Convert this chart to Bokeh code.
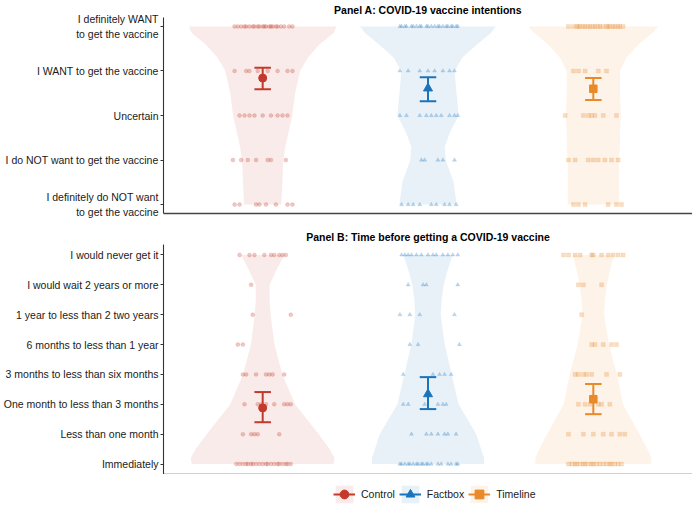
import numpy as np
from bokeh.plotting import figure
from bokeh.models import Range1d, FixedTicker, Legend, LegendItem
from bokeh.layouts import column
from bokeh.embed import file_html
from bokeh.resources import INLINE

# ---------------- data ----------------
groups = ["Control", "Factbox", "Timeline"]
group_pos = [1, 2, 3]
colors = ["#C33A2C", "#1B74BB", "#E8892A"]
markers = ["circle", "triangle", "square"]

a_title = "Panel A: COVID-19 vaccine intentions"
b_title = "Panel B: Time before getting a COVID-19 vaccine"

a_levels = [1, 2, 3, 4, 5]
a_labels = ["I definitely do NOT want\nto get the vaccine",
            "I do NOT want to get the vaccine",
            "Uncertain",
            "I WANT to get the vaccine",
            "I definitely WANT\nto get the vaccine"]
b_levels = [1, 2, 3, 4, 5, 6, 7, 8]
b_labels = ["Immediately", "Less than one month", "One month to less than 3 months",
            "3 months to less than six months", "6 months to less than 1 year",
            "1 year to less than 2 two years", "I would wait 2 years or more",
            "I would never get it"]

# means and 95% CI (Control, Factbox, Timeline)
a_mean = [3.84, 3.61, 3.60]
a_lo = [3.59, 3.32, 3.35]
a_hi = [4.07, 3.86, 3.84]
b_mean = [2.88, 3.34, 3.17]
b_lo = [2.40, 2.84, 2.67]
b_hi = [3.41, 3.91, 3.68]

# violin half-widths (x units) at response levels
a_grid = [1.0, 1.5, 2.0, 2.3, 2.6, 3.0, 3.5, 4.0, 4.3, 4.6, 4.85, 5.0]
a_half_control = [0.113, 0.119, 0.125, 0.137, 0.155, 0.179, 0.196, 0.226, 0.274, 0.345, 0.429, 0.446]
a_half_factbox = [0.173, 0.155, 0.107, 0.101, 0.131, 0.185, 0.173, 0.161, 0.208, 0.298, 0.381, 0.411]
a_half_timeline = [0.155, 0.155, 0.155, 0.161, 0.161, 0.167, 0.161, 0.161, 0.202, 0.274, 0.357, 0.393]

b_grid = [1.0, 1.2, 1.5, 2.0, 3.0, 4.0, 5.0, 6.0, 6.5, 7.0, 7.5, 8.0]
b_half_control = [0.429, 0.435, 0.405, 0.339, 0.196, 0.119, 0.071, 0.048, 0.042, 0.042, 0.083, 0.131]
b_half_factbox = [0.339, 0.339, 0.321, 0.292, 0.185, 0.143, 0.101, 0.077, 0.083, 0.095, 0.119, 0.149]
b_half_timeline = [0.351, 0.351, 0.327, 0.280, 0.179, 0.143, 0.095, 0.065, 0.071, 0.083, 0.101, 0.125]

# horizontal jitter offsets of individual responses, per level (lowest level first)
a_jit_control = [
    [-0.17, -0.14, -0.04, -0.02, 0.02, 0.08, 0.15, 0.18],
    [-0.18, -0.13, -0.09, -0.04, 0.03, 0.05, 0.14],
    [-0.14, -0.11, -0.08, -0.05, 0.0, 0.05, 0.09, 0.12, 0.15],
    [-0.17, -0.10, -0.08, -0.03, 0.03, 0.09, 0.15, 0.18],
    [-0.17, -0.15, -0.13, -0.11, -0.1, -0.08, -0.06, -0.05, -0.03, -0.02, 0.0, 0.01,
     0.02, 0.04, 0.05, 0.06, 0.08, 0.09, 0.11, 0.13, 0.16, 0.18],
]
a_jit_factbox = [
    [-0.16, -0.12, -0.09, -0.05, 0.02, 0.05, 0.1, 0.13, 0.17],
    [-0.04, -0.02, 0.06, 0.09, 0.16],
    [-0.17, -0.13, -0.05, -0.01, 0.02, 0.05, 0.08, 0.13, 0.16, 0.18],
    [-0.17, -0.12, -0.05, 0.0, 0.04, 0.09, 0.13, 0.16],
    [-0.17, -0.16, -0.14, -0.13, -0.1, -0.09, -0.07, -0.05, -0.04, -0.01, 0.0, 0.02,
     0.04, 0.06, 0.07, 0.09, 0.11, 0.12, 0.14, 0.15, 0.17, 0.18],
]
a_jit_timeline = [
    [-0.12, -0.09, -0.05, 0.09, 0.14, 0.17],
    [-0.15, -0.11, -0.03, 0.0, 0.03, 0.07, 0.11, 0.15],
    [-0.17, -0.06, -0.03, -0.01, 0.01, 0.06, 0.14],
    [-0.12, -0.09, -0.05, 0.03, 0.08],
    [-0.15, -0.12, -0.1, -0.09, -0.08, -0.06, -0.05, -0.03, -0.02, 0.0, 0.01, 0.03,
     0.04, 0.06, 0.08, 0.09, 0.1, 0.12, 0.13, 0.15, 0.16, 0.18],
]
b_jit_control = [
    [-0.16, -0.14, -0.12, -0.1, -0.09, -0.07, -0.06, -0.04, -0.02, 0.0, 0.02, 0.03,
     0.05, 0.07, 0.09, 0.1, 0.12, 0.14, 0.15, 0.17],
    [-0.12, -0.07, -0.05, -0.03, 0.1],
    [-0.11, -0.03, -0.01, 0.02, 0.07, 0.13, 0.15, 0.17],
    [-0.12, -0.1, -0.04, 0.02, 0.04, 0.06, 0.13],
    [-0.15, -0.12],
    [-0.06, 0.17],
    [-0.07],
    [-0.14, -0.08, -0.05, 0.01, 0.05, 0.07, 0.1, 0.12, 0.14],
]
b_jit_factbox = [
    [-0.17, -0.16, -0.14, -0.12, -0.11, -0.09, -0.07, -0.06, -0.04, -0.03, -0.01, 0.0,
     0.02, 0.06, 0.08, 0.12, 0.14, 0.17, 0.18],
    [-0.1, -0.01, 0.02, 0.06, 0.1, 0.12, 0.17],
    [-0.15, -0.12, -0.02, 0.06, 0.09, 0.11],
    [-0.15, 0.03, 0.07, 0.1, 0.14],
    [-0.11, -0.06, 0.19],
    [-0.17, -0.11, -0.05, 0.16],
    [-0.12, -0.03, -0.01, 0.18],
    [-0.16, -0.14, -0.12, -0.1, -0.07, -0.04, 0.0, 0.03, 0.05, 0.09, 0.12, 0.15, 0.18],
]
b_jit_timeline = [
    [-0.15, -0.13, -0.11, -0.1, -0.08, -0.06, -0.05, -0.03, -0.01, 0.0, 0.02, 0.04,
     0.06, 0.08, 0.1, 0.11, 0.13, 0.15, 0.17],
    [-0.15, -0.06, 0.0, 0.06, 0.11, 0.16, 0.19],
    [-0.09, -0.05, -0.02, 0.03, 0.05, 0.1],
    [-0.11, -0.09, -0.06, -0.04, -0.01, 0.08, 0.16],
    [-0.01, 0.01, 0.06, 0.11, 0.14],
    [-0.07],
    [-0.09, -0.06, 0.05],
    [-0.18, -0.15, -0.11, -0.08, -0.01, 0.0, 0.05, 0.09, 0.12, 0.15, 0.18],
]

# ---------------- styling ----------------
FONT = "Liberation Sans"
AXIS_COL = "#333333"
TEXT_COL = "#1a1a1a"
LEFT = 158
WIDTH = 692
MSIZE = {"circle": 8, "triangle": 9, "square": 7.5}


def violin_xy(xc, grid, half):
    h = np.array(half)
    g = np.array(grid)
    return np.concatenate([xc - h, (xc + h)[::-1]]), np.concatenate([g, g[::-1]])


def make_panel(title, levels, labels, yr, grid, halves, jits, means, los, his,
               height, min_bottom):
    p = figure(width=WIDTH, height=height, output_backend="svg", toolbar_location=None,
               x_range=Range1d(0.4, 3.6), y_range=Range1d(*yr),
               min_border_left=LEFT, min_border_right=0, min_border_top=0,
               min_border_bottom=min_bottom)
    p.title.text = title
    p.title.align = "center"
    p.title.text_font = FONT
    p.title.text_font_style = "bold"
    p.title.text_font_size = "10.5px"
    p.title.text_color = "#000000"
    p.title.standoff = 3
    p.grid.visible = False
    p.outline_line_color = None

    ya = p.yaxis[0]
    ya.ticker = FixedTicker(ticks=levels)
    ya.major_label_overrides = {lv: lab for lv, lab in zip(levels, labels)}
    ya.major_label_text_font = FONT
    ya.major_label_text_font_size = "10.5px"
    ya.major_label_text_color = TEXT_COL
    ya.major_label_standoff = 2
    ya.major_tick_out = 3
    ya.major_tick_in = 0
    ya.minor_tick_line_color = None
    ya.axis_line_color = AXIS_COL
    ya.major_tick_line_color = AXIS_COL
    ya.axis_line_width = 1.1

    xa = p.xaxis[0]
    xa.ticker = FixedTicker(ticks=[])
    xa.major_tick_line_color = None
    xa.minor_tick_line_color = None
    xa.major_label_text_font_size = "0px"
    xa.axis_line_color = "#444444"
    xa.axis_line_width = 1.6

    for i in range(3):
        c = colors[i]
        xc = group_pos[i]
        vx, vy = violin_xy(xc, grid, halves[i])
        p.patch(vx, vy, fill_color=c, fill_alpha=0.1, line_color=None)

        px, py = [], []
        for lv, offs in zip(levels, jits[i]):
            for o in offs:
                px.append(xc + o)
                py.append(lv)
        p.scatter(px, py, marker=markers[i], size=4, fill_color=c, line_color=c,
                  fill_alpha=0.28, line_alpha=0.12)

        p.segment(x0=[xc], y0=[los[i]], x1=[xc], y1=[his[i]], line_color=c, line_width=2)
        p.segment(x0=[xc - 0.05, xc - 0.05], y0=[los[i], his[i]],
                  x1=[xc + 0.05, xc + 0.05], y1=[los[i], his[i]], line_color=c, line_width=2)
        p.scatter([xc], [means[i]], marker=markers[i], size=MSIZE[markers[i]],
                  fill_color=c, line_color=c)
    return p


pa = make_panel(a_title, a_levels, a_labels, (0.8, 5.2), a_grid,
                [a_half_control, a_half_factbox, a_half_timeline],
                [a_jit_control, a_jit_factbox, a_jit_timeline],
                a_mean, a_lo, a_hi, height=227, min_bottom=14)

pb = make_panel(b_title, b_levels, b_labels, (0.65, 8.35), b_grid,
                [b_half_control, b_half_factbox, b_half_timeline],
                [b_jit_control, b_jit_factbox, b_jit_timeline],
                b_mean, b_lo, b_hi, height=247, min_bottom=0)

# legend strip: key glyphs reuse panel B's violin / CI / mean data (kept outside the view)
pl = figure(width=WIDTH, height=32, output_backend="svg", toolbar_location=None,
            x_range=Range1d(10, 11), y_range=Range1d(10, 11),
            x_axis_location=None, y_axis_location=None,
            min_border_left=LEFT, min_border_right=0, min_border_top=0, min_border_bottom=0)
pl.grid.visible = False
pl.outline_line_color = None
items = []
b_halves = [b_half_control, b_half_factbox, b_half_timeline]
for i in range(3):
    c = colors[i]
    xc = group_pos[i]
    vx, vy = violin_xy(xc, b_grid, b_halves[i])
    kr = pl.patch(vx, vy, fill_color=c, fill_alpha=0.1, line_color=None)
    lr = pl.segment(x0=[xc], y0=[b_lo[i]], x1=[xc], y1=[b_hi[i]], line_color=c, line_width=2)
    mr = pl.scatter([xc], [b_mean[i]], marker=markers[i], size=6,
                    fill_color=c, line_color=c)
    items.append(LegendItem(label=groups[i], renderers=[kr, lr, mr]))
legend = Legend(items=items, orientation="horizontal", location=(170, 1),
                glyph_width=22, glyph_height=22, label_standoff=6, spacing=4,
                label_text_font=FONT, label_text_font_size="10.5px",
                label_text_color=TEXT_COL, border_line_color=None,
                background_fill_alpha=0, padding=0, margin=0)
pl.add_layout(legend, "center")

layout = column(pa, pb, pl, spacing=0)
open("out.html", "w").write(file_html(layout, INLINE))
